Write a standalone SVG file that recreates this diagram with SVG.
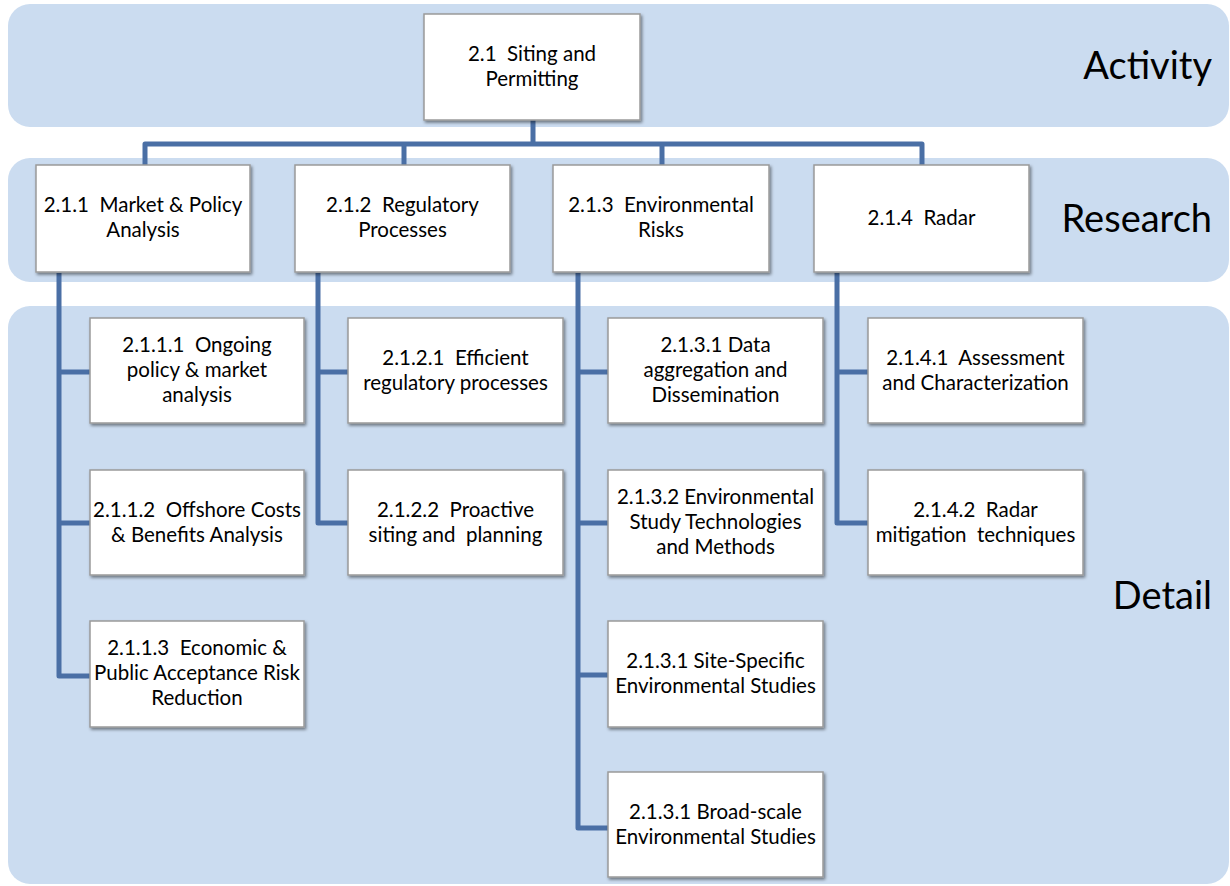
<svg xmlns="http://www.w3.org/2000/svg" width="1230" height="886" viewBox="0 0 1230 886">
<defs>
<filter id="sh" x="-10%" y="-10%" width="125%" height="130%">
<feDropShadow dx="1.5" dy="2" stdDeviation="1.5" flood-color="#000" flood-opacity="0.45"/>
</filter>
<style>
.band{fill:#CBDCF0}
.box{fill:#FFFFFF;stroke:#9A9A9A;stroke-width:1.5;filter:url(#sh)}
.t{font-family:Lato,"Liberation Sans",sans-serif;font-size:20.5px;fill:#000;text-anchor:middle;white-space:pre}
.lab{font-family:Lato,"Liberation Sans",sans-serif;font-size:38px;fill:#000;text-anchor:end}
.con{fill:none;stroke:#4A6FA5;stroke-width:5;stroke-linejoin:round;stroke-linecap:butt}
</style>
</defs>
<rect width="1230" height="886" fill="#FFFFFF"/>
<g id="bands">
<rect class="band" x="8" y="4" width="1221" height="123" rx="22"/>
<rect class="band" x="8" y="158" width="1221" height="124" rx="22"/>
<rect class="band" x="8" y="306" width="1221" height="578" rx="22"/>
<text class="lab" x="1212" y="79">Activity</text>
<text class="lab" x="1212" y="232">Research</text>
<text class="lab" x="1212" y="609">Detail</text>
</g>
<g id="connectors">
<path class="con" d="M533 120 V144 M145 165 V144 H922 V165 M404 144 V165 M662 144 V165"/>
<path class="con" d="M59 273 V676 H90 M59 372 H90 M59 523 H90"/>
<path class="con" d="M318 273 V523 H348 M318 372 H348"/>
<path class="con" d="M578 273 V828 H608 M578 372 H608 M578 523 H608 M578 675 H608"/>
<path class="con" d="M837 273 V523 H868 M837 372 H868"/>
</g>
<g id="n2_1"><rect class="box" x="424" y="14" width="216" height="106"/><text class="t" x="532" y="61">2.1  Siting and</text><text class="t" x="532" y="86">Permitting</text></g>
<g id="n2_1_1"><rect class="box" x="36" y="165" width="214" height="107"/><text class="t" x="143" y="212">2.1.1  Market &amp; Policy</text><text class="t" x="143" y="237">Analysis</text></g>
<g id="n2_1_2"><rect class="box" x="295" y="165" width="215" height="107"/><text class="t" x="402.5" y="212">2.1.2  Regulatory</text><text class="t" x="402.5" y="237">Processes</text></g>
<g id="n2_1_3"><rect class="box" x="553" y="165" width="216" height="107"/><text class="t" x="661" y="212">2.1.3  Environmental</text><text class="t" x="661" y="237">Risks</text></g>
<g id="n2_1_4"><rect class="box" x="814" y="165" width="215" height="107"/><text class="t" x="921.5" y="225">2.1.4  Radar</text></g>
<g id="n2_1_1_1"><rect class="box" x="90" y="318" width="214" height="105"/><text class="t" x="197" y="352">2.1.1.1  Ongoing</text><text class="t" x="197" y="377">policy &amp; market</text><text class="t" x="197" y="402">analysis</text></g>
<g id="n2_1_1_2"><rect class="box" x="90" y="470" width="214" height="105"/><text class="t" x="197" y="517">2.1.1.2  Offshore Costs</text><text class="t" x="197" y="542">&amp; Benefits Analysis</text></g>
<g id="n2_1_1_3"><rect class="box" x="90" y="621" width="214" height="106"/><text class="t" x="197" y="655">2.1.1.3  Economic &amp;</text><text class="t" x="197" y="680">Public Acceptance Risk</text><text class="t" x="197" y="705">Reduction</text></g>
<g id="n2_1_2_1"><rect class="box" x="348" y="318" width="215" height="105"/><text class="t" x="455.5" y="365">2.1.2.1  Efficient</text><text class="t" x="455.5" y="390">regulatory processes</text></g>
<g id="n2_1_2_2"><rect class="box" x="348" y="470" width="215" height="105"/><text class="t" x="455.5" y="517">2.1.2.2  Proactive</text><text class="t" x="455.5" y="542">siting and  planning</text></g>
<g id="n2_1_3_1"><rect class="box" x="608" y="318" width="215" height="105"/><text class="t" x="715.5" y="352">2.1.3.1 Data</text><text class="t" x="715.5" y="377">aggregation and</text><text class="t" x="715.5" y="402">Dissemination</text></g>
<g id="n2_1_3_2"><rect class="box" x="608" y="470" width="215" height="105"/><text class="t" x="715.5" y="504">2.1.3.2 Environmental</text><text class="t" x="715.5" y="529">Study Technologies</text><text class="t" x="715.5" y="554">and Methods</text></g>
<g id="n2_1_3_3"><rect class="box" x="608" y="621" width="215" height="106"/><text class="t" x="715.5" y="668">2.1.3.1 Site-Specific</text><text class="t" x="715.5" y="693">Environmental Studies</text></g>
<g id="n2_1_3_4"><rect class="box" x="608" y="772" width="215" height="105"/><text class="t" x="715.5" y="819">2.1.3.1 Broad-scale</text><text class="t" x="715.5" y="844">Environmental Studies</text></g>
<g id="n2_1_4_1"><rect class="box" x="868" y="318" width="215" height="105"/><text class="t" x="975.5" y="365">2.1.4.1  Assessment</text><text class="t" x="975.5" y="390">and Characterization</text></g>
<g id="n2_1_4_2"><rect class="box" x="868" y="470" width="215" height="105"/><text class="t" x="975.5" y="517">2.1.4.2  Radar</text><text class="t" x="975.5" y="542">mitigation  techniques</text></g>
</svg>
